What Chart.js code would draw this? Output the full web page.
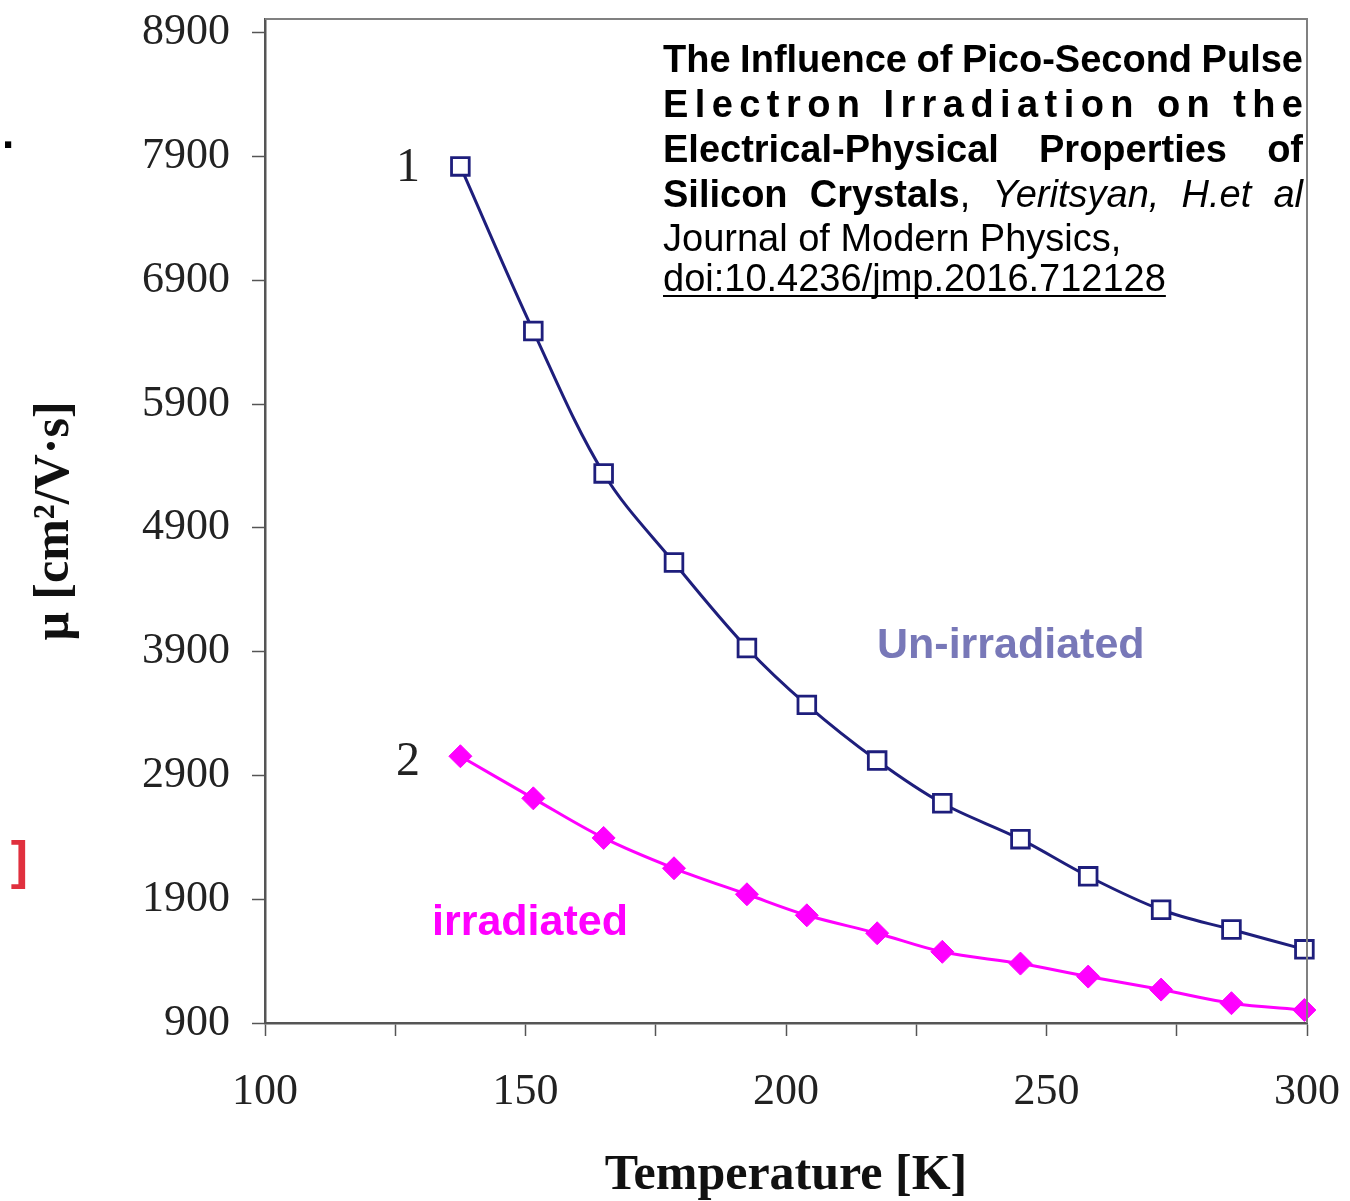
<!DOCTYPE html>
<html>
<head>
<meta charset="utf-8">
<title>Mobility vs temperature</title>
<script src="https://cdn.jsdelivr.net/npm/chart.js@4.4.1/dist/chart.umd.min.js"></script>
<style>
  html, body { margin: 0; padding: 0; background: #fff; overflow: hidden; }
  #wrap { position: relative; width: 1350px; height: 1201px; }
</style>
</head>
<body>
<div id="wrap"><canvas id="chart"></canvas></div>
<script>
// Hall mobility of Si vs temperature

const temperature = [137.5, 151.5, 165, 178.5, 192.5, 204, 217.5, 230, 245, 258, 272, 285.5, 299.5];
const unirradiated = [7820, 6490, 5340, 4620, 3930, 3470, 3020, 2675, 2385, 2085, 1815, 1655, 1495];
const irradiated = [3055, 2715, 2395, 2150, 1940, 1770, 1625, 1475, 1380, 1275, 1170, 1060, 1005];

const yTicks = [900, 1900, 2900, 3900, 4900, 5900, 6900, 7900, 8900];
const xLabelled = [100, 150, 200, 250, 300];

const NAVY = '#1e1e7c';
const MAGENTA = '#ff00ff';
const SERIF = '"Liberation Serif", "Times New Roman", serif';
const SANS = '"Liberation Sans", Arial, Helvetica, sans-serif';

// citation block (top right), each word made of [text, font] pieces
const B = 'bold 38px ' + SANS;
const R = '38px ' + SANS;
const I = 'italic 38px ' + SANS;
const citeLines = [
  { mode: 'justify', y: 72, words: [[['The', B]], [['Influence', B]], [['of', B]], [['Pico-Second', B]], [['Pulse', B]]] },
  { mode: 'spread', y: 117, words: [[['Electron', B]], [['Irradiation', B]], [['on', B]], [['the', B]]] },
  { mode: 'justify', y: 162, words: [[['Electrical-Physical', B]], [['Properties', B]], [['of', B]]] },
  { mode: 'justify', y: 207, words: [[['Silicon', B]], [['Crystals', B], [',', R]], [['Yeritsyan,', I]], [['H.et', I]], [['al', I]]] },
  { mode: 'left', y: 251, words: [[['Journal', R]], [['of', R]], [['Modern', R]], [['Physics,', R]]] },
  { mode: 'left', y: 291, underline: true, words: [[['doi:10.4236/jmp.2016.712128', R]]] }
];
const citeLeft = 663, citeRight = 1303;

function pieceWidth(ctx, word) {
  return word.reduce((w, [t, f]) => { ctx.font = f; return w + ctx.measureText(t).width; }, 0);
}

function drawCiteLine(ctx, line) {
  ctx.textAlign = 'left';
  ctx.textBaseline = 'alphabetic';
  ctx.fillStyle = '#000';
  if (line.mode === 'spread') {
    // letter spaced line: every glyph gap gets the same extra room
    ctx.font = line.words[0][0][1];
    const text = line.words.map(w => w[0][0]).join(' ');
    const natural = ctx.measureText(text).width;
    const extra = (citeRight - citeLeft - natural) / (text.length - 1);
    let x = citeLeft;
    for (const ch of text) {
      ctx.fillText(ch, x, line.y);
      x += ctx.measureText(ch).width + extra;
    }
    return;
  }
  ctx.font = R;
  const space = ctx.measureText(' ').width;
  const widths = line.words.map(w => pieceWidth(ctx, w));
  const total = widths.reduce((a, b) => a + b, 0);
  let gap = space;
  if (line.mode === 'justify' && line.words.length > 1) {
    gap = (citeRight - citeLeft - total) / (line.words.length - 1);
  }
  let x = citeLeft;
  line.words.forEach((word, i) => {
    word.forEach(([t, f]) => {
      ctx.font = f;
      ctx.fillText(t, x, line.y);
      x += ctx.measureText(t).width;
    });
    if (i < line.words.length - 1) x += gap;
  });
  if (line.underline) {
    ctx.strokeStyle = '#000';
    ctx.lineWidth = 2;
    ctx.beginPath();
    ctx.moveTo(citeLeft, line.y + 5);
    ctx.lineTo(x, line.y + 5);
    ctx.stroke();
  }
}

const notes = {
  id: 'notes',
  afterDraw(chart) {
    const ctx = chart.ctx;
    const area = chart.chartArea;
    ctx.save();

    // top and right frame lines of the plot box
    ctx.strokeStyle = '#808080';
    ctx.lineWidth = 2;
    ctx.beginPath();
    ctx.moveTo(area.left, area.top);
    ctx.lineTo(area.right, area.top);
    ctx.lineTo(area.right, area.bottom);
    ctx.stroke();

    // curve numbers
    ctx.fillStyle = '#222';
    ctx.textAlign = 'center';
    ctx.textBaseline = 'alphabetic';
    ctx.font = '48px ' + SERIF;
    ctx.fillText('1', 408, 181);
    ctx.fillText('2', 408, 775);

    // series captions
    ctx.textAlign = 'left';
    ctx.font = 'bold 43px ' + SANS;
    ctx.fillStyle = '#7878b8';
    ctx.fillText('Un-irradiated', 877, 658);
    ctx.fillStyle = MAGENTA;
    ctx.fillText('irradiated', 432, 935);

    citeLines.forEach(l => drawCiteLine(ctx, l));

    // clipped fragments of neighbouring text at the left edge
    ctx.fillStyle = '#000';
    ctx.font = 'bold 44px ' + SANS;
    ctx.fillText('.', 2, 148);
    ctx.fillStyle = '#e0303e';
    ctx.textAlign = 'right';
    ctx.font = 'bold 52px ' + SANS;
    ctx.fillText(']', 28, 878);

    ctx.restore();
  }
};

new Chart(document.getElementById('chart'), {
  type: 'line',
  data: {
    datasets: [
      {
        label: 'Un-irradiated',
        data: temperature.map((t, i) => ({ x: t, y: unirradiated[i] })),
        borderColor: NAVY,
        borderWidth: 3,
        tension: 0.35,
        pointStyle: 'rect',
        pointRadius: 12.5,
        pointBackgroundColor: '#fff',
        pointBorderColor: NAVY,
        pointBorderWidth: 2.8,
        clip: false
      },
      {
        label: 'irradiated',
        data: temperature.map((t, i) => ({ x: t, y: irradiated[i] })),
        borderColor: MAGENTA,
        borderWidth: 3,
        tension: 0.35,
        pointStyle: 'rectRot',
        pointRadius: 11.5,
        pointBackgroundColor: MAGENTA,
        pointBorderColor: MAGENTA,
        pointBorderWidth: 1,
        clip: false
      }
    ]
  },
  options: {
    responsive: true,
    maintainAspectRatio: false,
    animation: false,
    layout: { padding: { left: 0, top: 19, right: 43, bottom: 0 } },
    plugins: { legend: { display: false }, tooltip: { enabled: false } },
    scales: {
      x: {
        type: 'linear',
        min: 100,
        max: 300,
        grid: { drawOnChartArea: false, tickLength: 13, tickColor: '#555', tickWidth: 1.5 },
        border: { color: '#555', width: 2.5 },
        ticks: {
          stepSize: 25,
          padding: 30,
          color: '#222',
          font: { family: SERIF, size: 44, lineHeight: 1.2 },
          maxRotation: 0,
          callback: v => (xLabelled.includes(v) ? String(v) : '')
        },
        title: {
          display: true,
          text: 'Temperature [K]',
          color: '#111',
          font: { family: SERIF, size: 50, weight: 'bold', lineHeight: 1.0 },
          padding: { top: 0, bottom: 0 }
        },
        afterFit(scale) {
          scale.height = 178;
          scale.paddingLeft = scale.paddingRight = 0;
        }
      },
      y: {
        type: 'linear',
        min: 900,
        max: 9011,
        grid: { drawOnChartArea: false, tickLength: 13, tickColor: '#555', tickWidth: 1.5 },
        border: { color: '#555', width: 2.5 },
        ticks: {
          padding: 22,
          color: '#222',
          font: { family: SERIF, size: 44, lineHeight: 1.2 },
          callback: v => String(v)
        },
        afterBuildTicks(scale) {
          scale.ticks = yTicks.map(v => ({ value: v }));
        },
        title: {
          display: true,
          text: 'μ [cm²/V·s]',
          color: '#111',
          font: { family: SERIF, size: 50, weight: 'bold', lineHeight: 1.2 },
          padding: { top: 25, bottom: 0 }
        },
        afterFit(scale) {
          scale.width = 265;
          scale.paddingTop = scale.paddingBottom = 0;
        }
      }
    }
  },
  plugins: [notes]
});
</script>
</body>
</html>
